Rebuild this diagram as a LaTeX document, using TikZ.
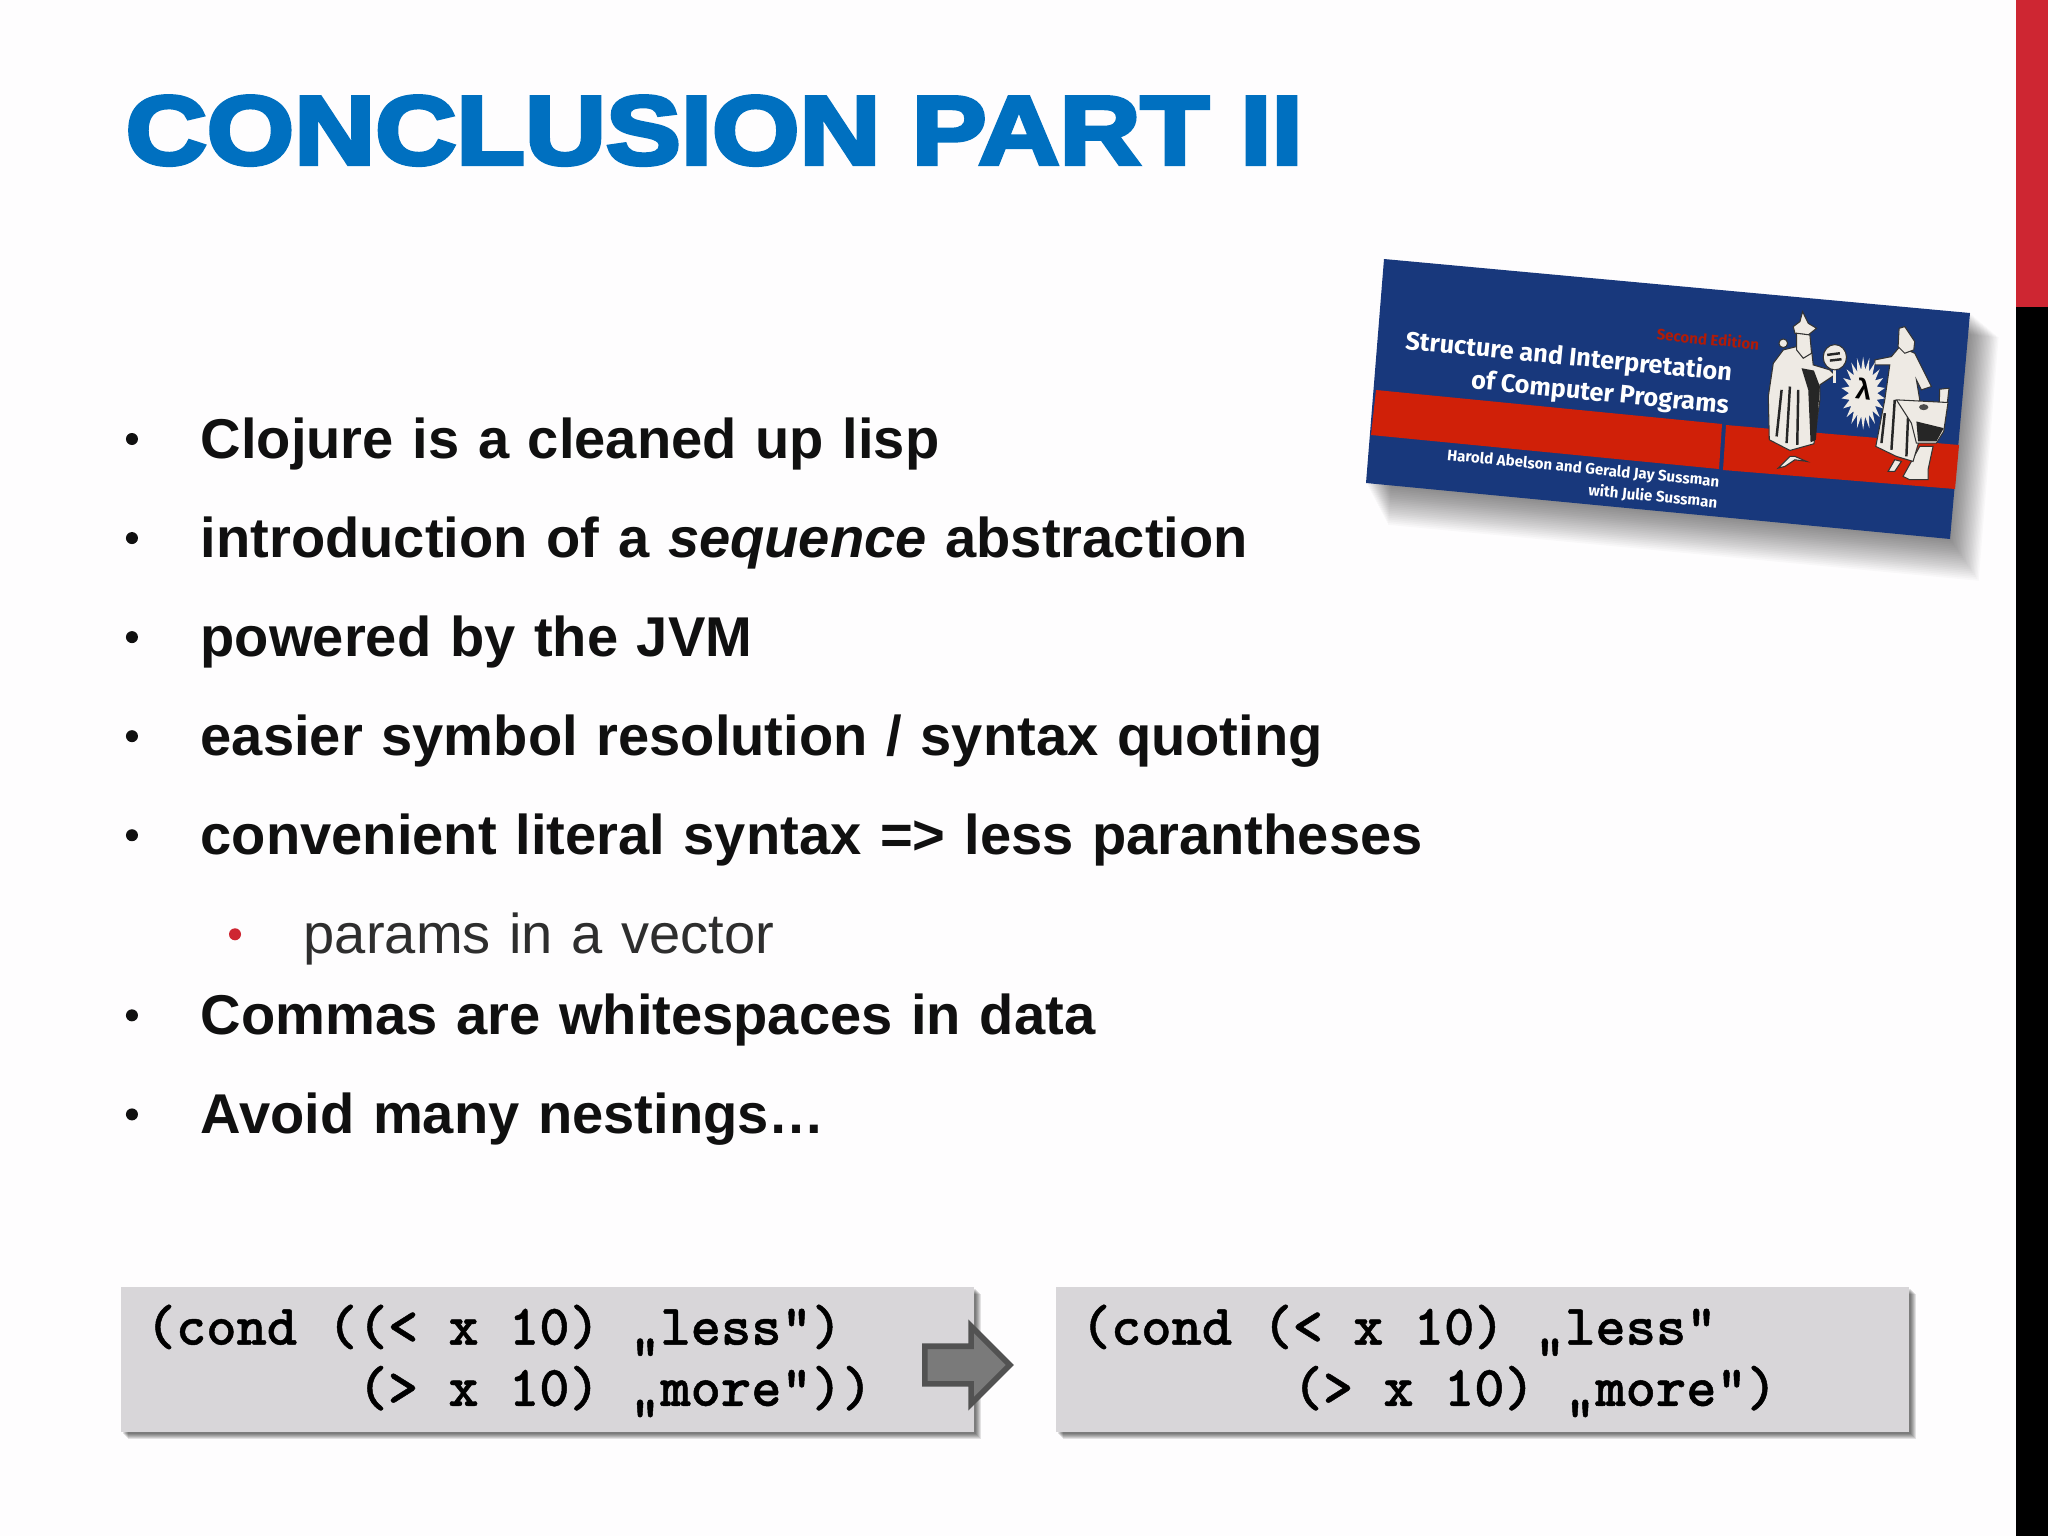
\documentclass[tikz,border=0pt]{standalone}
\usepackage{fontspec}
\usepackage{tikz}
\usetikzlibrary{shapes.geometric, shapes.arrows, positioning, calc}
\setmainfont{Liberation Sans}
\newfontfamily\codefont[FakeBold=0.8]{LMMonoLt10-Bold}
\newfontfamily\titlefont[FakeBold=4.4,FakeStretch=1.157]{Liberation Sans Bold}
\newfontfamily\coverfont{Fira Sans}
\definecolor{pagewhite}{RGB}{254,253,254}
\definecolor{titleblue}{RGB}{0,112,192}
\definecolor{barred}{RGB}{206,38,50}
\definecolor{boxgray}{RGB}{216,214,217}
\definecolor{coverblue}{RGB}{24,56,124}
\definecolor{coverred}{RGB}{208,32,8}
\definecolor{bodyblack}{RGB}{16,16,16}
\definecolor{robe}{RGB}{238,234,228}
\tikzstyle{item} = [text width=14.5cm, align=left, text height=0.44cm, text depth=0.13cm, inner sep=0pt, text=bodyblack, font=\fontsize{15.95}{19}\selectfont\bfseries]
\tikzstyle{subitem} = [item, text=black!82, font=\fontsize{15.95}{19}\selectfont]
\tikzstyle{dot} = [circle, inner sep=0pt, minimum size=0.12cm, fill=bodyblack]
\tikzstyle{reddot} = [dot, fill=barred]
\tikzstyle{codebox} = [rectangle, minimum width=8.53cm, minimum height=1.45cm, fill=boxgray, inner sep=0pt]
\tikzstyle{code} = [align=left, inner sep=0pt, text=black, font=\fontsize{16.4}{17.4}\codefont]
\tikzstyle{covertext} = [white, inner sep=0pt, rotate=-5.6, align=right, font=\coverfont\bfseries]
\tikzstyle{woodcut} = [fill=robe, draw=black!80, line width=0.3pt]
\tikzstyle{shade} = [black!85, line width=0.7pt]
\begin{document}
\begin{tikzpicture}[x=0.01cm, y=-0.01cm, node distance=0.99cm]
\useasboundingbox (0,0) rectangle (2048,1536);
\fill [pagewhite] (0,0) rectangle (2048,1536);
\fill [black] (2016,307) rectangle (2048,1536);
\fill [barred] (2016,0) rectangle (2048,307);

\node (title) [anchor=base west, inner sep=0pt, text=titleblue, font=\fontsize{27.6}{32}\titlefont] at (125,164) {CONCLUSION PART II};

% bullets
\node (clojure) [item, anchor=west] at (200,443) {Clojure is a cleaned up lisp};
\node (sequence) [item, below of=clojure] {introduction of a \textit{sequence} abstraction};
\node (jvm) [item, below of=sequence] {powered by the JVM};
\node (symbol) [item, below of=jvm] {easier symbol resolution / syntax quoting};
\node (literal) [item, below of=symbol] {convenient literal syntax => less parantheses};
\node (params) [subitem, below of=literal, xshift=1.03cm] {params in a vector};
\node (commas) [item, below of=params, xshift=-1.03cm, yshift=0.18cm] {Commas are whitespaces in data};
\node (nestings) [item, below of=commas] {Avoid many nestings…};

\foreach \n in {clojure, sequence, jvm, symbol, literal, commas, nestings}
  \node (dot\n) [dot, xshift=-0.68cm, yshift=0.04cm] at (\n.west) {};
\node (dotparams) [reddot, xshift=-0.68cm, yshift=0.04cm] at (params.west) {};

% code boxes
\foreach \i in {3,...,8} {
  \fill [black, opacity=0.11] (120+\i,1286+\i) rectangle (973+\i,1431+\i);
  \fill [black, opacity=0.11] (1055+\i,1286+\i) rectangle (1908+\i,1431+\i);
}
\node (oldbox) [codebox, anchor=north west] at (120,1286) {};
\node (newbox) [codebox, anchor=north west] at (1055,1286) {};
\node (oldcode) [code, anchor=north west] at (145,1304) {(cond ((< x 10) „less“)\\~~~~~~~(> x 10) „more“))};
\node (newcode) [code, anchor=north west] at (1080,1304) {(cond (< x 10) „less“\\~~~~~~~(> x 10) „more“)};
\node (next) [single arrow, draw=black!68, line width=1.6pt, fill=black!52, inner sep=0.16cm, minimum width=0.76cm, minimum height=0.85cm, single arrow head extend=0.2cm, single arrow head indent=0cm, single arrow tip angle=90] at (958,1365) {};

% book cover
\foreach \i in {1,...,22}
  \fill [black, opacity=0.022] ($(1384,259)+(1.0*\i,0.8*\i)$) -- ($(1970,313)+(1.3*\i,1.1*\i)$) -- ($(1950,539)+(1.3*\i,1.9*\i)$) -- ($(1366,483)+(1.0*\i,1.9*\i)$) -- cycle;
\fill [coverblue] (1384,259) -- (1970,313) -- (1950,539) -- (1366,483) -- cycle;
\fill [coverred] (1376,390) -- (1722,424) -- (1719,469) -- (1371,435) -- cycle;
\fill [coverred] (1726,425) -- (1959,445) -- (1955,489) -- (1723,470) -- cycle;
\node (edition) [covertext, text=coverred!85!black, font=\fontsize{4.3}{4}\coverfont\bfseries] at (1708,339) {Second Edition};
\node (sicp) [covertext, anchor=east, font=\fontsize{7.2}{9.3}\coverfont\bfseries] at (1731,390) {Structure and Interpretation\\of Computer Programs};
\node (authors) [covertext, anchor=east, font=\fontsize{4.3}{6}\coverfont\bfseries] at (1719,493) {Harold Abelson and Gerald Jay Sussman\\with Julie Sussman};

% figures on the cover
\begin{scope}[shift={(1740,300)}, x=0.00333cm, y=-0.00333cm]
\fill [woodcut] (115,505) -- (150,470) -- (165,470) -- (200,485) -- (165,480) -- (135,500) -- cycle;
\fill [woodcut] (130,150) -- (100,190) -- (85,290) -- (88,420) -- (150,452) -- (222,432) -- (240,300) -- (240,255) -- (285,225) -- (270,210) -- (220,195) -- (215,150) -- (170,140) -- cycle;
\fill [black!85] (185,205) -- (222,212) -- (240,260) -- (228,420) -- (212,428) -- (205,270) -- cycle;
\draw [shade] (125,270) -- (110,410);
\draw [shade] (150,260) -- (140,430);
\draw [shade] (175,270) -- (172,435);
\fill [woodcut] (188,35) -- (205,70) -- (230,85) -- (205,105) -- (165,100) -- (160,80) -- (180,65) -- cycle;
\fill [woodcut] (170,100) -- (210,105) -- (215,160) -- (190,175) -- (170,150) -- cycle;
\fill [woodcut] (130,130) circle (13);
\draw [robe, line width=0.8pt] (283,205) -- (283,250);
\fill [woodcut] (285,172) ellipse (35 and 38);
\draw [shade] (262,165) -- (300,160);
\draw [shade] (270,182) -- (305,178);
\fill [woodcut] (445,515) -- (465,480) -- (485,485) -- (465,515) -- cycle;
\fill [woodcut] (490,530) -- (540,440) -- (580,440) -- (565,510) -- (565,540) -- (510,540) -- cycle;
\fill [woodcut] (405,180) -- (455,170) -- (480,140) -- (525,160) -- (575,260) -- (545,270) -- (530,240) -- (540,300) -- (545,400) -- (520,485) -- (470,470) -- (408,440) -- (435,300) -- (450,195) -- (405,195) -- cycle;
\draw [shade] (435,340) -- (425,430);
\draw [shade] (465,300) -- (455,450);
\draw [shade] (505,350) -- (500,470);
\fill [woodcut] (478,85) -- (495,80) -- (525,125) -- (522,150) -- (495,160) -- (475,140) -- cycle;
\fill [woodcut] (600,268) -- (628,265) -- (620,335) -- (598,335) -- cycle;
\fill [woodcut] (470,300) -- (625,308) -- (612,395) -- (590,430) -- (530,430) -- (515,370) -- cycle;
\fill [black!85] (530,365) -- (612,385) -- (590,425) -- (535,425) -- cycle;
\fill [black!70] (552,322) ellipse (14 and 9);
\node (burst) [star, star points=22, star point ratio=1.55, fill=robe, inner sep=0pt, minimum size=0.73cm, xscale=0.6] at (370,280) {};
\node (lambda) [inner sep=0pt, rotate=-7, text=black, font=\fontsize{8}{9}\selectfont\bfseries] at (372,268) {λ};
\end{scope}
\end{tikzpicture}
\end{document}
